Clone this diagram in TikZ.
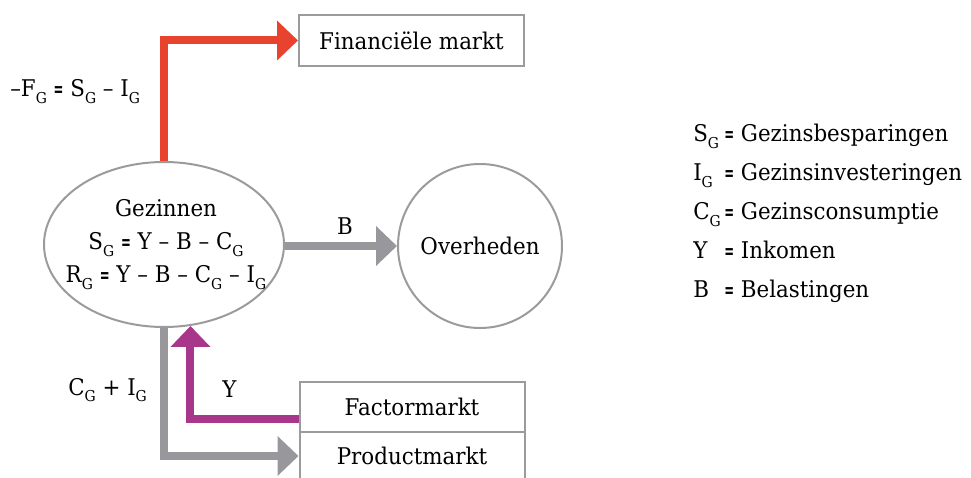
\documentclass[tikz,border=0pt]{standalone}
\usepackage{fontspec}
\setmainfont[FakeStretch=0.93]{DejaVu Serif}
\usetikzlibrary{shapes.geometric,arrows.meta}
\definecolor{flowred}{RGB}{232,67,46}
\definecolor{flowpurple}{RGB}{168,54,138}
\definecolor{flowgray}{RGB}{152,152,156}
\definecolor{edgegray}{RGB}{155,155,158}
% lowered subscript G used in all symbols
\newcommand\gsub{\raisebox{-0.3em}{\fontsize{11.25pt}{11.25pt}\selectfont G}}
% narrow equals sign
\newcommand\eqs{\scalebox{0.55}[0.9]{\textbf{=}}}
\begin{document}
\begin{tikzpicture}[x=0.75pt,y=-0.75pt,
  font=\fontsize{17.25pt}{24.75pt}\selectfont,
  market/.style={draw=edgegray, line width=1.5pt, fill=white,
    minimum width=168.75pt, minimum height=38.25pt, inner sep=0pt},
  actor/.style={draw=edgegray, line width=1.5pt, inner sep=0pt},
  lbl/.style={inner sep=0pt},
  flow/.style={line width=6pt, -{Triangle[length=15.75pt,width=29pt]}}]
\useasboundingbox (0,0) rectangle (971,478);

% sectors and markets
\node[market] (fin) at (411.5,40.5) {Financiële markt};
\node[actor, ellipse, minimum width=180pt, minimum height=123.75pt] (gez) at (164,244.5) {};
\node[lbl, align=center] (geztext) at (166,244.5)
  {Gezinnen\\S\gsub{} \eqs{} Y – B – C\gsub\\R\gsub{} \eqs{} Y – B – C\gsub{} – I\gsub};
\node[actor, circle, minimum size=123pt] (ov) at (480,246) {Overheden};
\node[market] (fac) at (412,407) {Factormarkt};
\node[market, minimum height=36pt] (prod) at (412,456) {Productmarkt};

% flows
\draw[flow, flowred] (gez.north) |- (fin.west);
\draw[flow, flowgray] (ov.west -| gez.east) -- (ov.west);
\draw[flow, flowgray] (gez.south) |- (prod.west);
\draw[flow, flowpurple] ([yshift=-9pt]fac.west) -| (gez.-72);

% flow labels
\node[lbl, anchor=base west] (fglab) at (10,97) {–F\gsub{} \eqs{} S\gsub{} – I\gsub};
\node[lbl, anchor=base] (blab) at (345,234) {B};
\node[lbl, anchor=base west] (cilab) at (68,395) {C\gsub{} + I\gsub};
\node[lbl, anchor=base] (ylab) at (229.5,397) {Y};

% legend
\node[lbl, anchor=base west] (leg1) at (693,142) {\makebox[23.25pt][l]{S\gsub}\eqs{} Gezinsbesparingen};
\node[lbl, anchor=base west] (leg2) at (693,180.75) {\makebox[23.25pt][l]{I\gsub}\eqs{} Gezinsinvesteringen};
\node[lbl, anchor=base west] (leg3) at (693,219.5) {\makebox[23.25pt][l]{C\gsub}\eqs{} Gezinsconsumptie};
\node[lbl, anchor=base west] (leg4) at (693,258.25) {\makebox[23.25pt][l]{Y}\eqs{} Inkomen};
\node[lbl, anchor=base west] (leg5) at (693,297) {\makebox[23.25pt][l]{B}\eqs{} Belastingen};
\end{tikzpicture}
\end{document}
